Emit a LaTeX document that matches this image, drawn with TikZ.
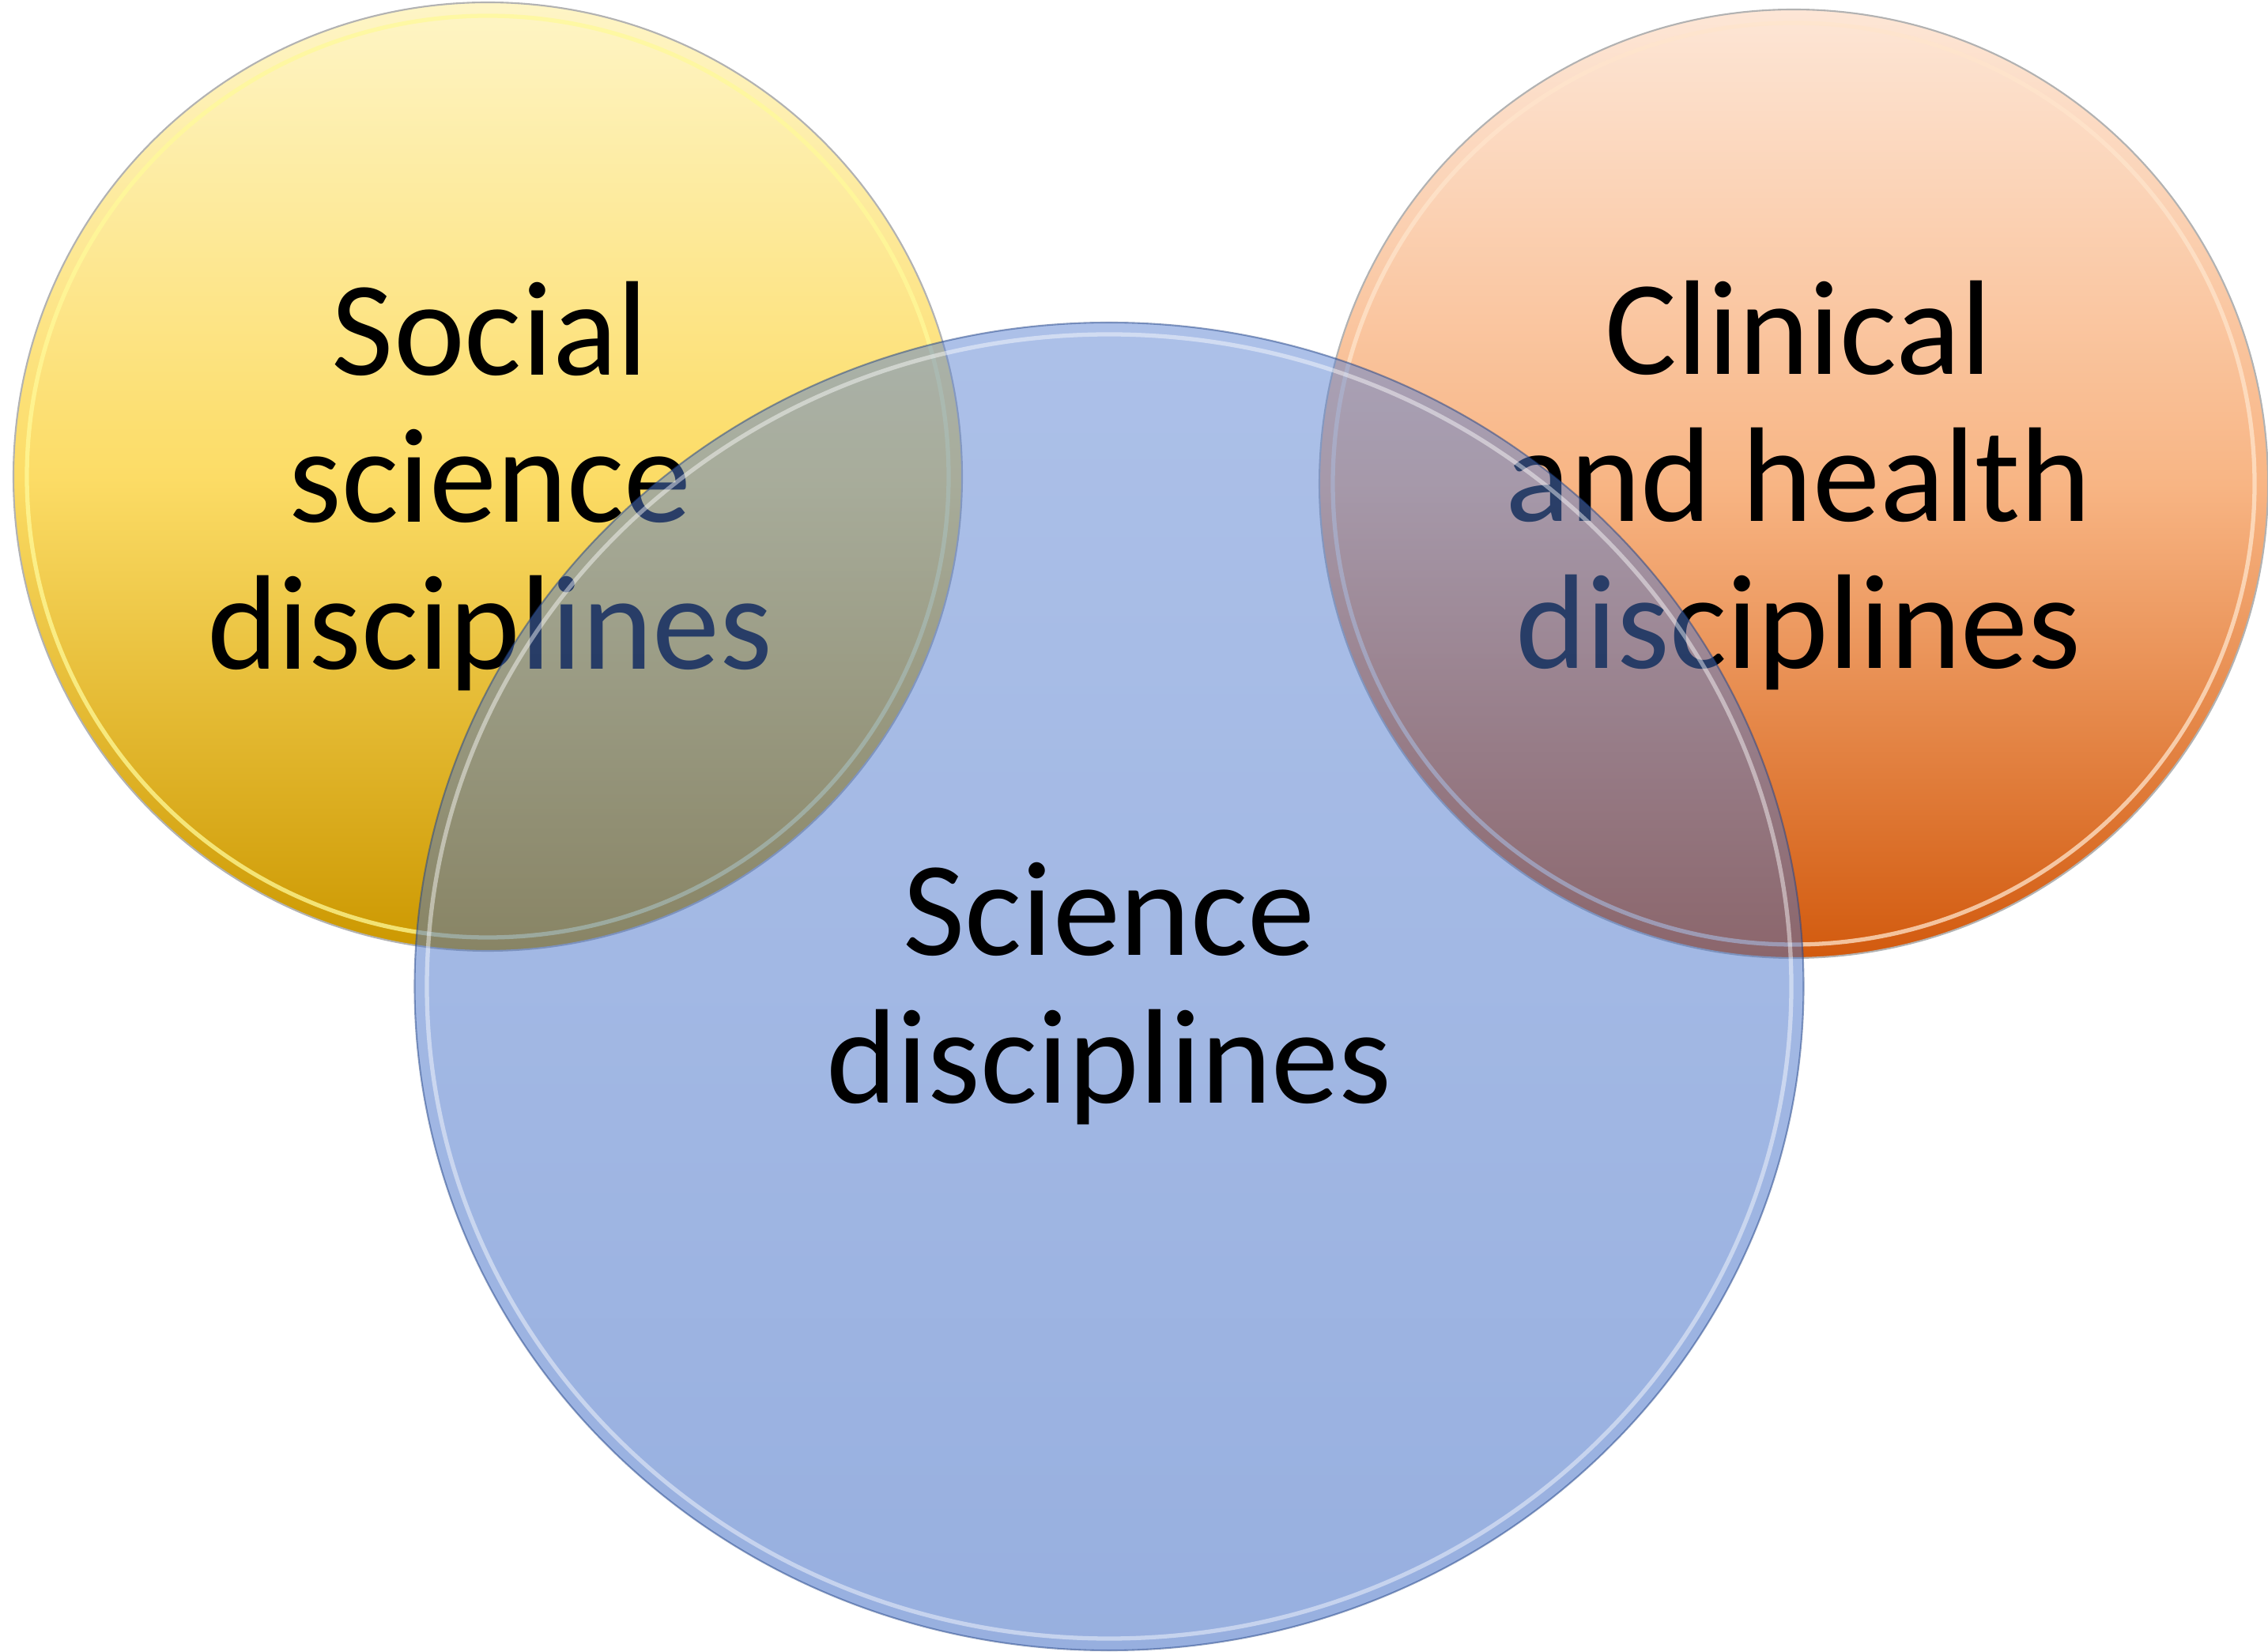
\documentclass[tikz,border=0pt]{standalone}
\usepackage{fontspec}
\setmainfont{Carlito}
\usetikzlibrary{shapes.geometric}

\definecolor{socialtop}{HTML}{FEF5C6}
\definecolor{socialmid}{HTML}{FCDC66}
\definecolor{socialbot}{HTML}{CC9800}
\definecolor{clintop}{HTML}{FDE6D6}
\definecolor{clinmid}{HTML}{F8B584}
\definecolor{clinbot}{HTML}{D25A0E}
\definecolor{scitop}{HTML}{5A82D2}
\definecolor{scibot}{HTML}{3060C0}

\tikzset{
  discfont/.style={font=\fontsize{48.5}{53}\selectfont},
  rim/.style={line width=1.5pt,draw opacity=.75}
}

\begin{document}
\begin{tikzpicture}

        \useasboundingbox (0,0) rectangle (28.69,20.89);

        \begin{scope}[every node/.style={circle,draw=black!30,line width=.6pt,minimum size=12cm,inner sep=0pt}]
          \node[top color=socialtop,bottom color=socialbot,middle color=socialmid] (social)   at (6.17,14.86)  {};
          \node[top color=clintop,bottom color=clinbot,middle color=clinmid]       (clinical) at (22.69,14.77) {};
        \end{scope}

        \draw[rim,draw=yellow!40] (social.center)   circle (5.83);
        \draw[rim,draw=white!80!orange] (clinical.center) circle (5.83);

        \begin{scope}[every node/.style={align=center,discfont,inner sep=0pt}]
          \node (sociallabel)   at (6.20,14.74)  {Social\\science\\disciplines};
          \node (clinicallabel) at (22.75,14.75) {Clinical\\and health\\disciplines};
        \end{scope}

        % science circle lies on top, half see-through
        \node[ellipse,minimum width=17.57cm,minimum height=16.80cm,inner sep=0pt,
              top color=scitop,bottom color=scibot,fill opacity=.5,
              draw=scibot!70!black,draw opacity=.5,line width=.6pt] (science) at (14.03,8.41) {};
        \draw[rim,draw=white,draw opacity=.45] (science.center) ellipse (8.63 and 8.25);

        \node[align=center,discfont,inner sep=0pt] (sciencelabel) at (14.03,8.32) {Science\\disciplines};

      \end{tikzpicture}
\end{document}
